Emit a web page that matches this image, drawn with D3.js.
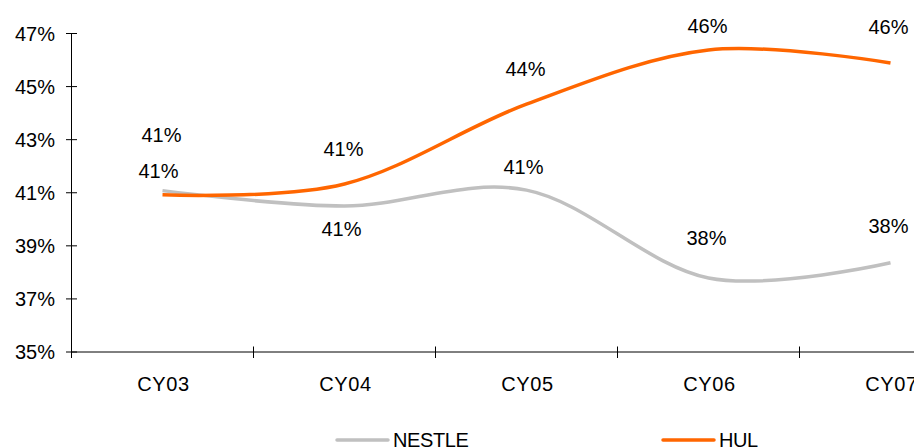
<!DOCTYPE html>
<html>
<head>
<meta charset="utf-8">
<script src="https://cdn.jsdelivr.net/npm/d3@7"></script>
<style>
  html, body { margin: 0; padding: 0; background: #fff; }
  svg { display: block; }
  text { font-family: "Liberation Sans", Arial, sans-serif; fill: #000; }
</style>
</head>
<body>
<svg id="chart" width="914" height="448"></svg>
<script>
// Operating margin trend, calendar years
const categories = ["CY03", "CY04", "CY05", "CY06", "CY07"];
const nestleValues = [41.08, 40.5, 41.1, 37.79, 38.36];
const hulValues = [40.92, 41.33, 44.34, 46.38, 45.89];
const yTicks = [35, 37, 39, 41, 43, 45, 47];

// Data label nudges (pixels, relative to each point)
const nestleLabelDy = [-13, 30, -16, -33, -30];
const nestleLabelDx = [-4, -3, -3, -2, -2];
const hulLabelDy = [-53, -28, -28, -17, -29];
const hulLabelDx = [-1, -1, -1, -1, -2];

const svg = d3.select("#chart");
const plotLeft = 71.5, plotTop = 33.5, plotBottom = 352, band = 182;

const x = d3.scaleBand()
  .domain(categories)
  .range([plotLeft, plotLeft + band * categories.length])
  .paddingInner(0).paddingOuter(0);
const y = d3.scaleLinear().domain([35, 47]).range([plotBottom, plotTop]);

const axisColor = "#000";

// Y axis
svg.append("line")
  .attr("x1", plotLeft).attr("x2", plotLeft)
  .attr("y1", y(47)).attr("y2", plotBottom)
  .attr("stroke", axisColor).attr("stroke-width", 1);
svg.selectAll(".ytick").data(yTicks).enter().append("line")
  .attr("x1", plotLeft - 5.5).attr("x2", plotLeft + 5.5)
  .attr("y1", d => y(d)).attr("y2", d => y(d))
  .attr("stroke", axisColor).attr("stroke-width", 1);
svg.selectAll(".ylab").data(yTicks).enter().append("text")
  .attr("x", 55).attr("y", d => y(d) + 7)
  .attr("text-anchor", "end")
  .attr("font-size", 20)
  .text(d => d + "%");

// X axis
svg.append("line")
  .attr("x1", plotLeft).attr("x2", 914)
  .attr("y1", plotBottom).attr("y2", plotBottom)
  .attr("stroke", axisColor).attr("stroke-width", 1);
svg.selectAll(".xtick").data(categories).enter().append("line")
  .attr("x1", d => x(d)).attr("x2", d => x(d))
  .attr("y1", plotBottom - 5.5).attr("y2", plotBottom + 6)
  .attr("stroke", axisColor).attr("stroke-width", 1);
svg.selectAll(".xlab").data(categories).enter().append("text")
  .attr("x", d => x(d) + x.bandwidth() / 2 + 1)
  .attr("y", 391)
  .attr("text-anchor", "middle")
  .attr("font-size", 20)
  .attr("letter-spacing", "0.6")
  .text(d => d);

// Series lines
const line = d3.line()
  .x((d, i) => x(categories[i]) + x.bandwidth() / 2)
  .y(d => y(d))
  .curve(d3.curveCardinal.tension(0));

const series = [
  { name: "NESTLE", values: nestleValues, color: "#C0C0C0", dx: nestleLabelDx, dy: nestleLabelDy },
  { name: "HUL", values: hulValues, color: "#FF6600", dx: hulLabelDx, dy: hulLabelDy }
];

series.forEach(s => {
  svg.append("path")
    .datum(s.values)
    .attr("d", line)
    .attr("fill", "none")
    .attr("stroke", s.color)
    .attr("stroke-width", 3.5)
    .attr("stroke-linejoin", "round");
});

// Data labels
series.forEach(s => {
  svg.selectAll(null).data(s.values).enter().append("text")
    .attr("x", (d, i) => x(categories[i]) + x.bandwidth() / 2 + s.dx[i])
    .attr("y", (d, i) => y(d) + s.dy[i])
    .attr("text-anchor", "middle")
    .attr("font-size", 20)
    .text(d => Math.round(d) + "%");
});

// Legend
const legendItems = [
  { name: "NESTLE", color: "#C0C0C0", x: 337 },
  { name: "HUL", color: "#FF6600", x: 663 }
];
legendItems.forEach(l => {
  svg.append("line")
    .attr("x1", l.x).attr("x2", l.x + 51)
    .attr("y1", 440).attr("y2", 440)
    .attr("stroke", l.color).attr("stroke-width", 3.5)
    .attr("stroke-linecap", "round");
  svg.append("text")
    .attr("x", l.x + 56).attr("y", 447)
    .attr("font-size", 20)
    .attr("letter-spacing", "-0.4")
    .text(l.name);
});
</script>
</body>
</html>
